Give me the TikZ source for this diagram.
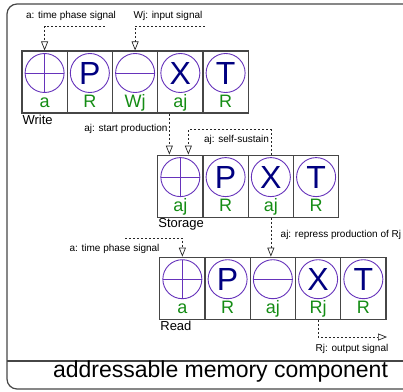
\documentclass[tikz,border=0pt]{standalone}
\usepackage{fontspec}
\setmainfont{Liberation Sans}
\usetikzlibrary{positioning,arrows.meta}
\definecolor{symcol}{RGB}{102,51,187}
\definecolor{letcol}{RGB}{0,0,128}
\definecolor{labcol}{RGB}{20,140,20}
\definecolor{boxcol}{RGB}{70,70,70}
\tikzset{
  cell/.style={draw=boxcol, line width=1.1pt, minimum width=45.25pt, minimum height=62pt, inner sep=0pt,
    text height=50pt, text depth=0pt, text=labcol, font=\fontsize{18}{18}\selectfont},
  sym/.style={circle, draw=symcol, line width=0.9pt, minimum size=39pt, inner sep=0pt, text=letcol,
    font=\fontsize{32}{32}\selectfont},
  plus/.style={sym, path picture={\draw[symcol, line width=0.9pt]
    (path picture bounding box.west) -- (path picture bounding box.east)
    (path picture bounding box.north) -- (path picture bounding box.south);}},
  minus/.style={sym, path picture={\draw[symcol, line width=0.9pt]
    (path picture bounding box.west) -- (path picture bounding box.east);}},
  sig/.style={draw=black!85, line width=0.7pt, dash pattern=on 2pt off 2pt,
    -{Triangle[length=9pt, width=7pt, fill=white]}},
  note/.style={font=\fontsize{10}{12}\selectfont, inner sep=1.5pt},
  row/.style={font=\fontsize{13}{15}\selectfont, anchor=north west, inner sep=1pt},
}
\begin{document}
\begin{tikzpicture}[x=1pt, y=-1pt, node distance=45.25pt]
	\useasboundingbox (0,0) rectangle (403,391);
	\draw[boxcol, line width=1.2pt, rounded corners=10pt] (7,4) rectangle (414,389);
	\draw[boxcol, line width=1.2pt] (7,361) -- (414,361);

	% write
	\node[cell] (w1) at (44.6,82) {a};
	\node[cell, right of=w1] (w2) {R};
	\node[cell, right of=w2] (w3) {Wj};
	\node[cell, right of=w3] (w4) {aj};
	\node[cell, right of=w4] (w5) {R};
	\node[plus] (w1c) at ([yshift=9pt]w1.center) {};
	\node[sym] (w2c) at ([yshift=9pt]w2.center) {P};
	\node[minus] (w3c) at ([yshift=9pt]w3.center) {};
	\node[sym] (w4c) at ([yshift=9pt]w4.center) {X};
	\node[sym] (w5c) at ([yshift=9pt]w5.center) {T};
	\node[row] (wl) at (w1.south west) {Write};

	% storage
	\node[cell, below=41pt of w4] (s1) {aj};
	\node[cell, right of=s1] (s2) {R};
	\node[cell, right of=s2] (s3) {aj};
	\node[cell, right of=s3] (s4) {R};
	\node[plus] (s1c) at ([yshift=9pt]s1.center) {};
	\node[sym] (s2c) at ([yshift=9pt]s2.center) {P};
	\node[sym] (s3c) at ([yshift=9pt]s3.center) {X};
	\node[sym] (s4c) at ([yshift=9pt]s4.center) {T};
	\node[row] (sl) at (s1.south west) {Storage};

	% read
	\node[cell, below=39pt of s1, xshift=2pt] (r1) {a};
	\node[cell, right of=r1] (r2) {R};
	\node[cell, right of=r2] (r3) {aj};
	\node[cell, right of=r3] (r4) {Rj};
	\node[cell, right of=r4] (r5) {R};
	\node[plus] (r1c) at ([yshift=9pt]r1.center) {};
	\node[sym] (r2c) at ([yshift=9pt]r2.center) {P};
	\node[minus] (r3c) at ([yshift=9pt]r3.center) {};
	\node[sym] (r4c) at ([yshift=9pt]r4.center) {X};
	\node[sym] (r5c) at ([yshift=9pt]r5.center) {T};
	\node[row] (rl) at (r1.south west) {Read};

	% signals
	\coordinate (ta1) at (105,26);
	\coordinate (in1) at (205,26);
	\coordinate (ta2) at (125,238);
	\coordinate (out) at (387,337);
	\node[note] (ta1l) at (71,16) {a: time phase signal};
	\node[note] (in1l) at (168,16) {Wj: input signal};
	\node[note] (ta2l) at (114.5,249) {a: time phase signal};
	\node[note] (outl) at (352,349) {Rj: output signal};

	\draw[sig] (ta1) -| (w1.north);
	\draw[sig] (in1) -| (w3.north);
	\draw[sig] ([xshift=-11pt]w4.south) -- node[note, left, pos=0.37] (spl) {aj: start production} ([xshift=-11pt]s1.north);
	\draw[sig] (s3.north) -- node[note, left, pos=0.6] (ssl) {aj: self-sustain} ++(0,-25) -| ([xshift=8pt]s1.north);
	\draw[sig] (s3.south) -- node[note, right=8pt, pos=0.44] (rpl) {aj: repress production of Rj} (s3.south |- r3.north);
	\draw[sig] (ta2) -| (r1.north);
	\draw[sig] (r4.south) |- (out);

	\node[font=\fontsize{23}{26}\selectfont, anchor=base] (title) at (220.5,377) {addressable memory component};
\end{tikzpicture}
\end{document}
